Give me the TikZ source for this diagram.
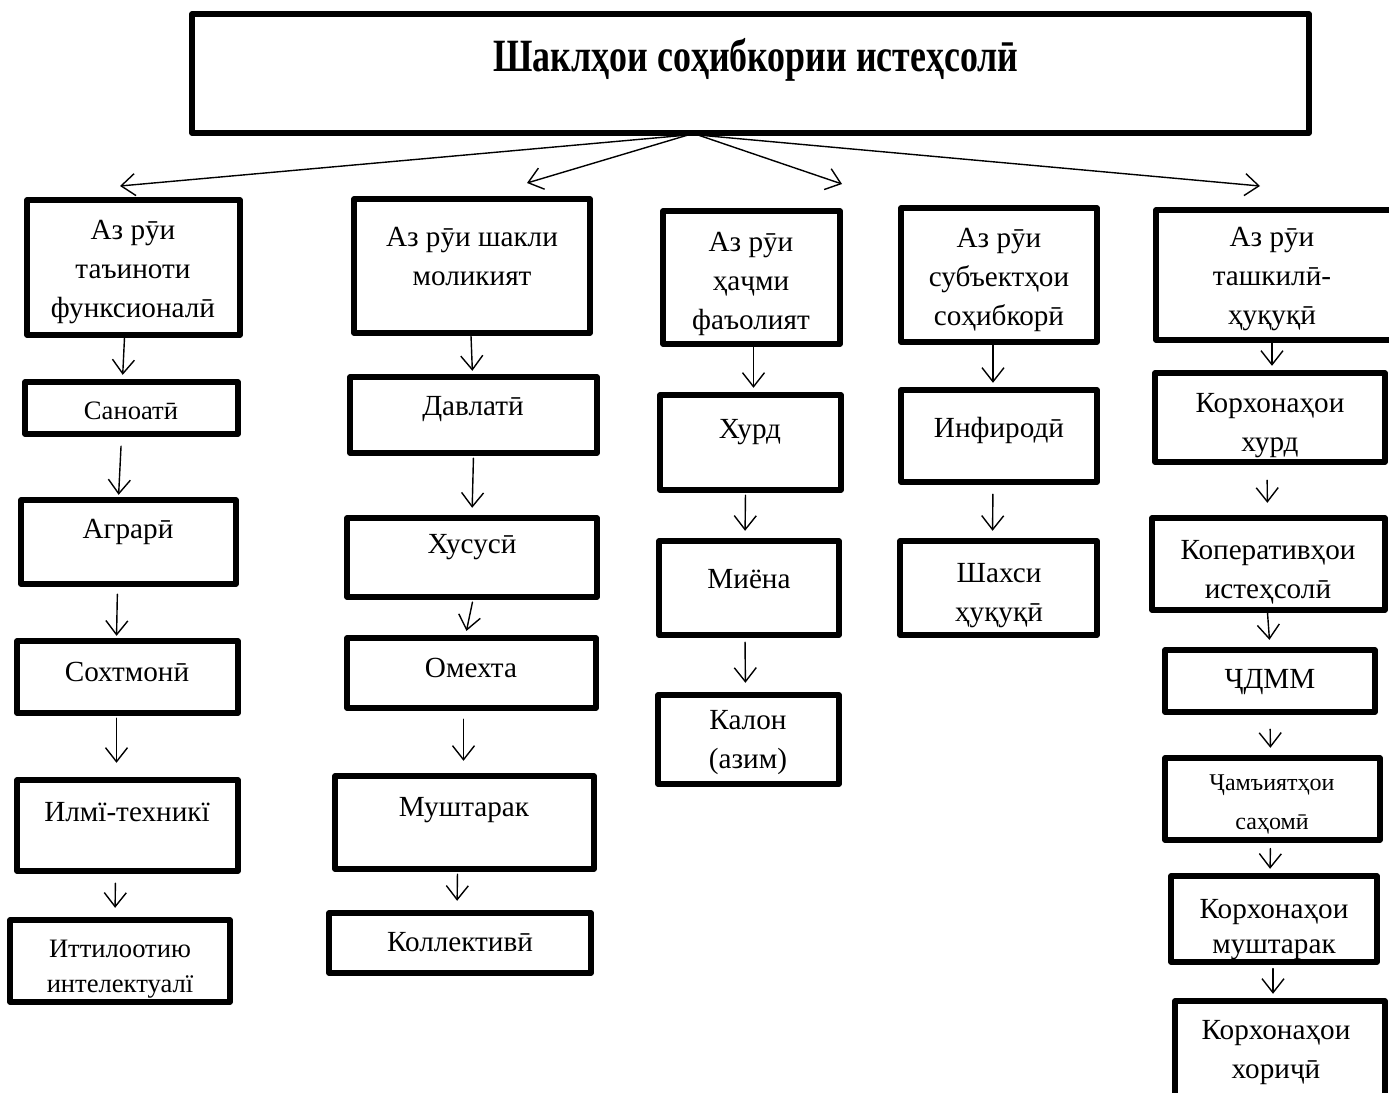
\documentclass[tikz,border=0pt]{standalone}
\usepackage{fontspec}
\setmainfont{Liberation Serif}
\usetikzlibrary{arrows.meta,fit}

\begin{document}
\begin{tikzpicture}[line cap=round,line join=round,x=0.5pt,y=-0.5pt,
    blk/.style={draw,line width=2.6pt,inner sep=0pt},
    txt/.style={align=center,inner sep=0pt,font=\fontsize{14.6}{19.5}\selectfont},
    sml/.style={txt,font=\fontsize{13.3}{17.5}\selectfont},
    arr/.style={-{Straight Barb[length=7pt,width=11pt]},line width=0.7pt}]
    \useasboundingbox (0,0) rectangle (1389,1093);
    \clip (0,0) rectangle (1389,1093);
    \node[blk,fit={(192,14) (1309,133)}] (top) {};
    \node[blk,fit={(27,200) (240,335)}] (a1) {};
    \node[blk,fit={(25,382) (238,434)}] (a2) {};
    \node[blk,fit={(21,500) (236,584)}] (a3) {};
    \node[blk,fit={(17,641) (238,713)}] (a4) {};
    \node[blk,fit={(17,780) (238,871)}] (a5) {};
    \node[blk,fit={(10,920) (230,1002)}] (a6) {};
    \node[blk,fit={(354,199) (590,333)}] (b1) {};
    \node[blk,fit={(350,377) (597,453)}] (b2) {};
    \node[blk,fit={(347,518) (597,597)}] (b3) {};
    \node[blk,fit={(347,638) (596,708)}] (b4) {};
    \node[blk,fit={(335,776) (594,869)}] (b5) {};
    \node[blk,fit={(329,913) (591,973)}] (b6) {};
    \node[blk,fit={(663,211) (840,344)}] (c1) {};
    \node[blk,fit={(660,395) (841,490)}] (c2) {};
    \node[blk,fit={(659,541) (839,635)}] (c3) {};
    \node[blk,fit={(658,695) (839,784)}] (c4) {};
    \node[blk,fit={(901,208) (1097,342)}] (d1) {};
    \node[blk,fit={(901,390) (1097,482)}] (d2) {};
    \node[blk,fit={(900,541) (1097,635)}] (d3) {};
    \node[blk,fit={(1156,210) (1400,340)}] (e1) {};
    \node[blk,fit={(1155,373) (1385,462)}] (e2) {};
    \node[blk,fit={(1152,518) (1385,610)}] (e3) {};
    \node[blk,fit={(1165,650) (1375,712)}] (e4) {};
    \node[blk,fit={(1165,758) (1380,840)}] (e5) {};
    \node[blk,fit={(1171,876) (1377,962)}] (e6) {};
    \node[blk,fit={(1175,1001) (1385,1110)}] (e7) {};
    \node[txt,font=\fontsize{18.5}{22}\selectfont\bfseries] at (756,60) {\scalebox{0.97}[1.25]{Шаклҳои соҳибкории истеҳсолӣ}};
    \node[txt] at (133,272) {Аз рӯи\\таъиноти\\функсионалӣ};
    \node[sml] at (131,411) {Саноатӣ};
    \node[txt] at (128,532) {Аграрӣ};
    \node[txt] at (127,672) {Сохтмонӣ};
    \node[txt] at (127,812) {Илмї-техникї};
    \node[sml] at (120,969) {Иттилоотию\\интелектуалї};
    \node[txt] at (472,256) {Аз рӯи шакли\\моликият};
    \node[txt] at (473,409) {Давлатӣ};
    \node[txt] at (472,547) {Хусусӣ};
    \node[txt] at (471,668) {Омехта};
    \node[txt] at (464,810) {Муштарак};
    \node[txt] at (460,942) {Коллективӣ};
    \node[txt] at (751,284) {Аз рӯи\\ҳаҷми\\фаъолият};
    \node[txt] at (750,432) {Хурд};
    \node[txt] at (749,579) {Миёна};
    \node[txt] at (748,743) {Калон\\(азим)};
    \node[txt] at (999,280) {Аз рӯи\\субъектҳои\\соҳибкорӣ};
    \node[txt] at (999,430) {Инфиродӣ};
    \node[txt] at (999,596) {Шахси\\ҳуқуқӣ};
    \node[txt] at (1272,279) {Аз рӯи\\ташкилӣ-\\ҳуқуқӣ};
    \node[txt] at (1270,426) {Корхонаҳои\\хурд};
    \node[txt] at (1268,572) {Коперативҳои\\истеҳсолӣ};
    \node[txt] at (1270,682) {ҶДММ};
    \node[sml,font=\fontsize{12}{19.5}\selectfont] at (1272,804) {Ҷамъиятҳои\\саҳомӣ};
    \node[txt,font=\fontsize{14.6}{17.5}\selectfont] at (1274,930) {Корхонаҳои\\муштарак};
    \node[txt] at (1276,1053) {Корхонаҳои\\хориҷӣ};
    \coordinate (hl) at (688,135);
    \coordinate (hr) at (698,135);
    \coordinate (t1) at (120,186);
    \coordinate (t2) at (527,183);
    \coordinate (t3) at (842,184);
    \coordinate (t4) at (1260,186);
    \draw[arr] (hl) -- (t1);
    \draw[arr] (hl) -- (t2);
    \draw[arr] (hr) -- (t3);
    \draw[arr] (hr) -- (t4);
    \draw[arr,shorten >=2.3pt] ([xshift=-4.5pt]a1.south) -- ([xshift=-4.5pt]a2.north);
    \draw[arr,shorten <=4.8pt,shorten >=1.3pt] ([xshift=-5pt]a2.south) -- ([xshift=-5pt]a3.north);
    \draw[arr,shorten <=3.8pt,shorten >=1.3pt] ([xshift=-5.5pt]a3.south) -- ([xshift=-5.5pt]a4.north);
    \draw[arr,shorten <=1.3pt,shorten >=7.3pt] ([xshift=-5.5pt]a4.south) -- ([xshift=-5.5pt]a5.north);
    \draw[arr,shorten <=4.8pt,shorten >=4.8pt] ([xshift=-6pt]a5.south) -- ([xshift=-2.5pt]a6.north);
    \draw[arr,shorten >=1.8pt] ([xshift=-0.5pt]b1.south) -- ([xshift=-0.5pt]b2.north);
    \draw[arr,shorten <=1.3pt,shorten >=3.8pt] (b2.south) -- (b3.north);
    \draw[arr,shorten <=1.3pt,shorten >=2.3pt] ([xshift=0.5pt]b3.south) -- ([xshift=-3pt]b4.north);
    \draw[arr,shorten <=4.3pt,shorten >=6.3pt] ([xshift=-4pt]b4.south) -- ([xshift=-0.5pt]b5.north);
    \draw[arr,shorten <=1.3pt,shorten >=4.8pt] ([xshift=-3.5pt]b5.south) -- ([xshift=-1.5pt]b6.north);
    \draw[arr,shorten >=2.3pt] ([xshift=1pt]c1.south) -- ([xshift=1.5pt]c2.north);
    \draw[arr,shorten <=1.3pt,shorten >=3.8pt] ([xshift=-2.5pt]c2.south) -- ([xshift=-2pt]c3.north);
    \draw[arr,shorten <=2.3pt,shorten >=4.8pt] ([xshift=-2pt]c3.south) -- ([xshift=-1.5pt]c4.north);
    \draw[arr,shorten >=2.3pt] ([xshift=-3pt]d1.south) -- ([xshift=-3pt]d2.north);
    \draw[arr,shorten <=4.8pt,shorten >=3.8pt] ([xshift=-3pt]d2.south) -- ([xshift=-3pt]d3.north);
    \draw[arr,shorten <=-1.5pt,shorten >=2.3pt] ([xshift=-3pt]e1.south) -- ([xshift=1pt]e2.north);
    \draw[arr,shorten <=7.8pt,shorten >=6.3pt] ([xshift=-1.5pt]e2.south) -- ([xshift=-0.5pt]e3.north);
    \draw[arr,shorten >=3.8pt] ([xshift=-0.5pt]e3.south) -- (e4.north);
    \draw[arr,shorten <=7.3pt,shorten >=3.8pt] (e4.south) -- ([xshift=-1pt]e5.north);
    \draw[arr,shorten <=3pt,shorten >=2.3pt] ([xshift=-1pt]e5.south) -- ([xshift=-2pt]e6.north);
    \draw[arr,shorten <=2pt,shorten >=2.3pt] ([xshift=-0.5pt]e6.south) -- ([xshift=-3.5pt]e7.north);
\end{tikzpicture}
\end{document}
